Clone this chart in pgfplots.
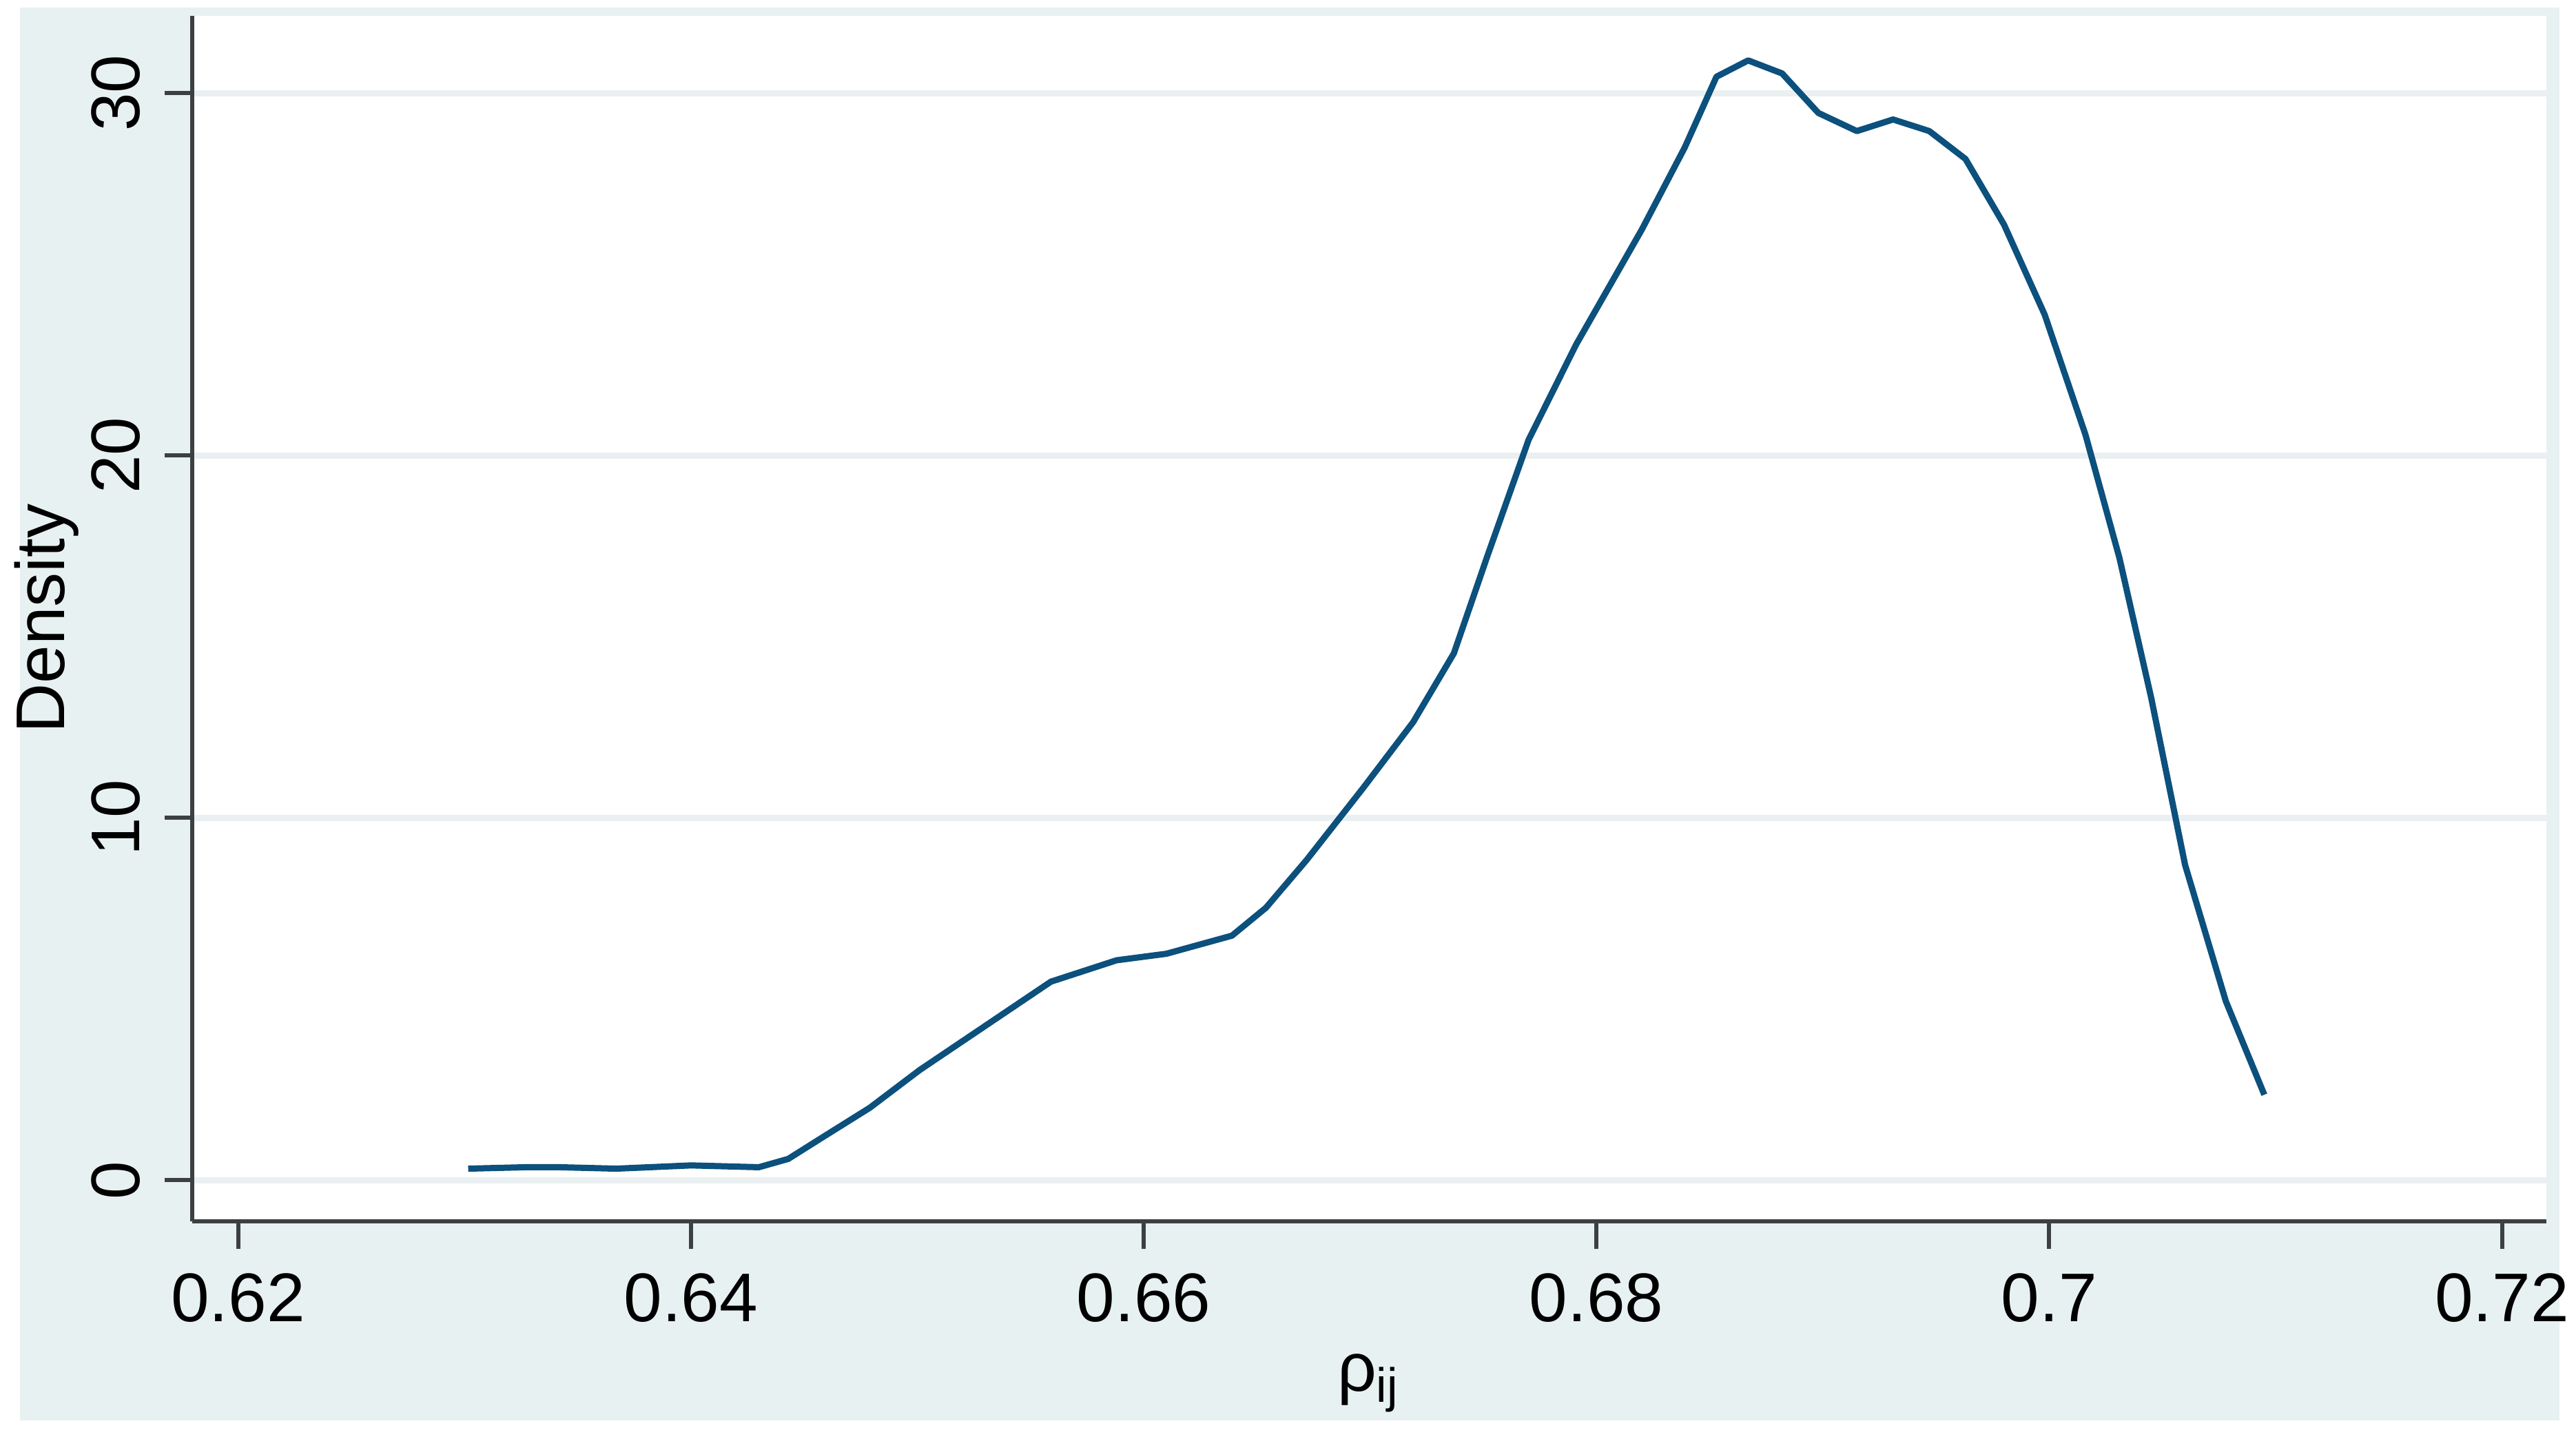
\documentclass[border=0pt]{standalone}
\usepackage{fontspec}
\setmainfont{Liberation Sans}
\usepackage{pgfplots}
\pgfplotsset{compat=1.18}
\definecolor{bgc}{RGB}{232,241,242}
\definecolor{gridc}{RGB}{234,240,242}
\definecolor{linec}{RGB}{12,80,125}
\definecolor{axc}{RGB}{60,64,66}
\begin{document}
\begin{tikzpicture}
\useasboundingbox (0,0) rectangle (373.9pt,208.8pt);
\fill[bgc] (2.9pt,2.6pt) rectangle (371.5pt,207.7pt);
\begin{axis}[
  at={(27.9pt,31.5pt)}, anchor=south west,
  scale only axis, width=341.7pt, height=175pt,
  xmin=0.61797, xmax=0.72196, ymin=-1.133, ymax=32.13,
  axis background/.style={fill=white},
  axis x line=bottom, axis y line=left,
  axis line style={-, draw=axc, line width=0.6pt},
  tick align=outside, major tick length=4pt,
  tick style={draw=axc, line width=0.6pt},
  xtick={0.62,0.64,0.66,0.68,0.7,0.72},
  xticklabels={0.62,0.64,0.66,0.68,0.7,0.72},
  ytick={0,10,20,30},
  yticklabels={0,10,20,30},
  ymajorgrids, major grid style={draw=gridc, line width=0.9pt},
  ticklabel style={font=\fontsize{10}{12}\selectfont},
  yticklabel style={rotate=90, anchor=south},
  xlabel={ρ\textsubscript{ij}}, ylabel={Density},
  label style={font=\fontsize{10}{12}\selectfont},
  xlabel style={at={(axis description cs:0.5,-0.134)}, anchor=center},
  ylabel style={at={(axis description cs:-0.062,0.5)}, anchor=center},
  clip=false,
]
\addplot[linec, line width=0.9pt, line join=round] coordinates {
(0.63016,0.32) (0.6327,0.36) (0.6342,0.36) (0.6367,0.32) (0.6400,0.41)
(0.6430,0.36) (0.6443,0.59) (0.6458,1.18) (0.6479,2.00) (0.6501,3.04)
(0.6530,4.26) (0.6559,5.48) (0.6588,6.07) (0.6610,6.25) (0.6639,6.75)
(0.6654,7.52) (0.6672,8.84) (0.6697,10.83) (0.6719,12.64) (0.6737,14.54)
(0.6752,17.26) (0.6770,20.43) (0.6791,23.06) (0.6820,26.23) (0.6839,28.50)
(0.6853,30.45) (0.6867,30.90) (0.6882,30.54) (0.6898,29.45) (0.6915,28.95)
(0.6931,29.27) (0.6947,28.95) (0.6963,28.18) (0.6980,26.37) (0.6998,23.88)
(0.7016,20.57) (0.7031,17.17) (0.7045,13.32) (0.7060,8.70) (0.7078,4.94)
(0.7095,2.36)
};
\end{axis}
\end{tikzpicture}
\end{document}
